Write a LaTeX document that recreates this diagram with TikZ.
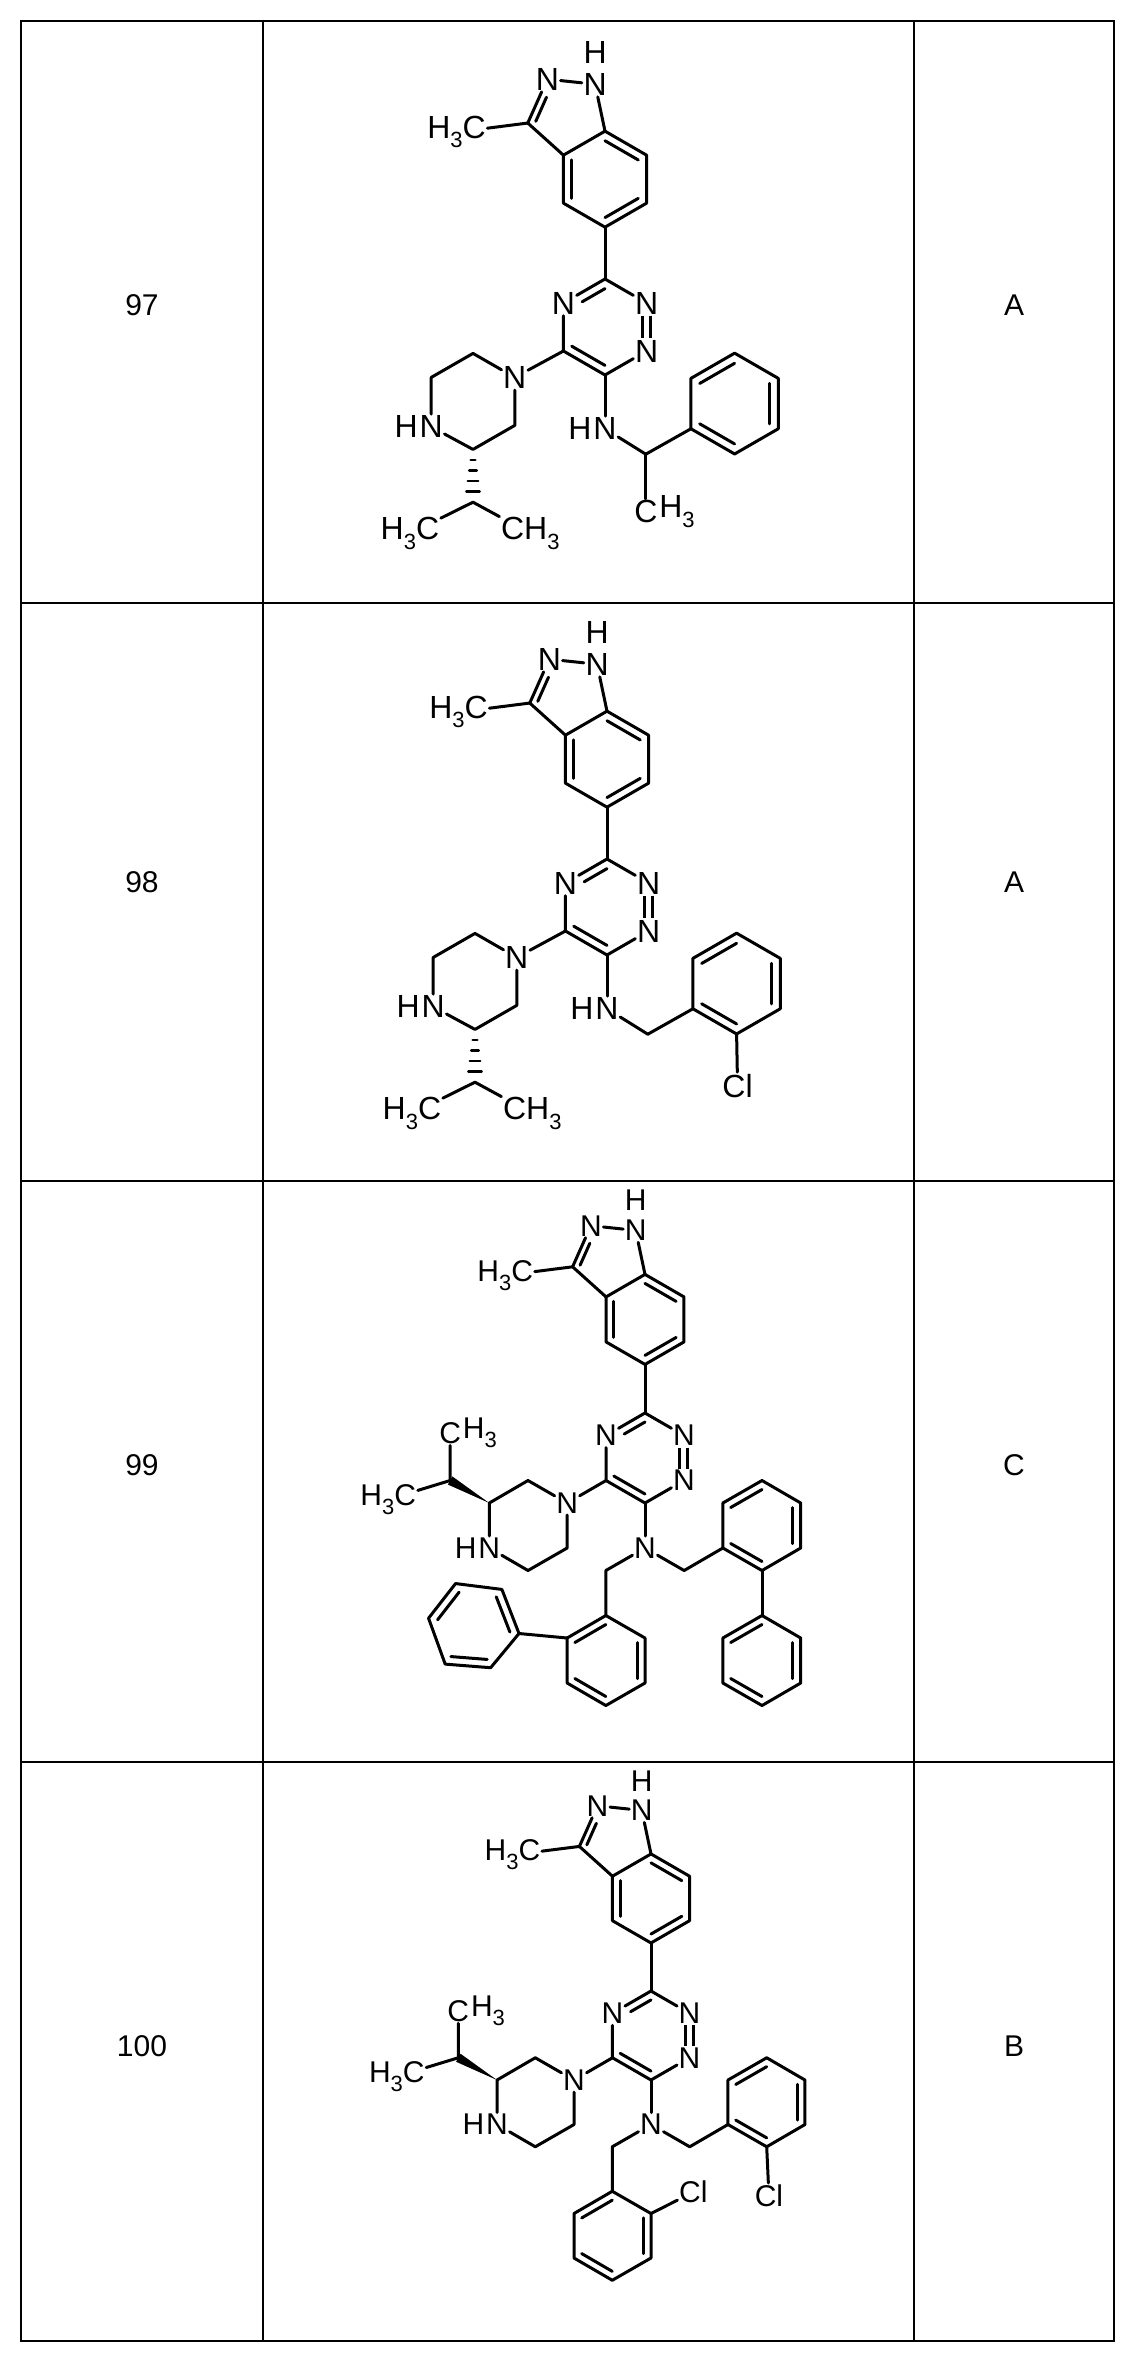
\documentclass[tikz,border=0pt]{standalone}
\usepackage{fontspec}
\setmainfont{Liberation Sans}
\usetikzlibrary{calc}
\newcommand{\chsub}[1]{\raisebox{-0.3em}{\fontsize{22}{22}\selectfont #1}}
\newcommand{\dbl}[4][]{\draw[bond,#1] ($(#2)!.2!(#4)$)--($(#3)!.2!(#4)$);}
\tikzset{
 bond/.style={line width=3pt, line cap=round, line join=round},
 tbl/.style={line width=2.5pt},
 cell/.style={font=\fontsize{30}{30}\selectfont},
}
\newcommand{\core}{%
 \coordinate (c3) at (0,0);
 \node[atom] (n2) at (0.866,-0.5) {N};
 \node[atom] (n1) at (0.866,-1.5) {N};
 \coordinate (c6) at (0,-2);
 \coordinate (c5) at (-0.866,-1.5);
 \node[atom] (n4) at (-0.866,-0.5) {N};
 \coordinate (tc) at (0,-1);
 \draw[bond] (c3)--(n2);
 \draw[bond,double,double distance=5pt,line cap=butt] (n2)--(n1);
 \draw[bond] (n1)--(c6)--(c5)--(n4)--(c3);
 \dbl[shorten >=12pt]{c3}{n4}{tc}
 \dbl{c5}{c6}{tc}
 \coordinate (b1) at (0,1.08);
 \coordinate (b6) at (0.866,1.58);
 \coordinate (b5) at (0.866,2.58);
 \coordinate (c7a) at (0,3.08);
 \coordinate (c3a) at (-0.866,2.58);
 \coordinate (c4) at (-0.866,1.58);
 \coordinate (bc) at (0,2.08);
 \draw[bond] (c3)--(b1);
 \draw[bond] (b1)--(b6)--(b5)--(c7a)--(c3a)--(c4)--cycle;
 \dbl{c4}{c3a}{bc} \dbl{c7a}{b5}{bc} \dbl{b6}{b1}{bc}
 \coordinate (pc3) at (-1.609,3.249);
 \node[atom] (pn2) at (-1.202,4.163) {N};
 \node[atom] (pn1) at (-0.207,4.058) {N};
 \node[atom] (ph) at (-0.207,4.72) {H};
 \coordinate (pc) at (-0.777,3.426);
 \draw[bond] (c3a)--(pc3)--(pn2)--(pn1)--(c7a);
 \dbl[shorten >=12pt]{pc3}{pn2}{pc}
 \node[atom,anchor=east] (me1) at (-2.45,3.06) {H\chsub{3}C};
 \draw[bond] (pc3)--(me1);
}
% piperazine with hashed isopropyl (rows 97, 98) + NH amine
\newcommand{\pipA}{%
 \node[atom] (pN) at (-1.88,-2.05) {N};
 \coordinate (pt) at (-2.75,-1.55);
 \coordinate (pul) at (-3.62,-2.05);
 \node[atom] (pHN) at (-3.62,-3.08) {N};
 \node[atom,anchor=east,inner sep=0pt] (pHH) at (pHN.west) {H};
 \coordinate (ps) at (-2.75,-3.55);
 \coordinate (pr) at (-1.88,-3.05);
 \draw[bond] (c5)--(pN)--(pt)--(pul)--(pHN)--(ps)--(pr)--(pN);
 \coordinate (ich) at (-2.75,-4.65);
 \foreach \t/\w in {0.2/0.05,0.4/0.08,0.6/0.11,0.8/0.14}
   \draw[bond,line width=2.4pt] ($(ps)!\t!(ich)+(-\w,0)$)--($(ps)!\t!(ich)+(\w,0)$);
 \node[atom,anchor=east] (im1) at (-3.42,-5.3) {H\chsub{3}C};
 \node[atom,anchor=west] (im2) at (-2.2,-5.3) {CH\chsub{3}};
 \draw[bond] (im1)--(ich)--(im2);
 \node[atom] (am) at (0,-3.12) {N};
 \node[atom,anchor=east,inner sep=0pt] (amh) at (am.west) {H};
 \draw[bond] (c6)--(am);
 \coordinate (ch) at (0.85,-3.65);
 \draw[bond] (am)--(ch);
 \coordinate (a1) at (1.79,-3.12);
 \coordinate (a2) at (1.79,-2.07);
 \coordinate (a3) at (2.70,-1.545);
 \coordinate (a4) at (3.61,-2.07);
 \coordinate (a5) at (3.61,-3.12);
 \coordinate (a6) at (2.70,-3.645);
 \coordinate (ac) at (2.70,-2.6);
 \draw[bond] (ch)--(a1);
 \draw[bond] (a1)--(a2)--(a3)--(a4)--(a5)--(a6)--cycle;
 \dbl{a2}{a3}{ac} \dbl{a4}{a5}{ac} \dbl{a6}{a1}{ac}
}
% piperazine with wedge isopropyl (rows 99, 100) + N(CH2)2
\newcommand{\pipB}{%
 \node[atom] (pN) at (-1.73,-2) {N};
 \coordinate (pt) at (-2.6,-1.5);
 \coordinate (ps) at (-3.46,-2);
 \node[atom] (pHN) at (-3.46,-3) {N};
 \node[atom,anchor=east,inner sep=0pt] (pHH) at (pHN.west) {H};
 \coordinate (pb) at (-2.6,-3.5);
 \coordinate (pr) at (-1.73,-3);
 \draw[bond] (c5)--(pN)--(pt)--(ps)--(pHN)--(pb)--(pr)--(pN);
 \coordinate (ich) at (-4.33,-1.5);
 \fill (ps)--(-4.28,-1.41)--(-4.38,-1.59)--cycle;
 \node[atom] (imc) at (-4.33,-0.45) {C};
 \node[atom,anchor=west,inner sep=0pt] (imh) at (imc.east) {H\chsub{3}};
 \node[atom,anchor=east] (im1) at (-5.05,-1.92) {H\chsub{3}C};
 \draw[bond] (imc)--(ich)--(im1);
 \node[atom] (am) at (0,-3) {N};
 \draw[bond] (c6)--(am);
 \coordinate (chl) at (-0.87,-3.5);
 \coordinate (chr) at (0.87,-3.5);
 \coordinate (L1) at (-0.87,-4.5);
 \coordinate (L2) at (0,-5);
 \coordinate (L3) at (0,-6);
 \coordinate (L4) at (-0.87,-6.5);
 \coordinate (L5) at (-1.73,-6);
 \coordinate (L6) at (-1.73,-5);
 \coordinate (Lc) at (-0.87,-5.5);
 \draw[bond] (am)--(chl)--(L1);
 \draw[bond] (L1)--(L2)--(L3)--(L4)--(L5)--(L6)--cycle;
 \dbl{L1}{L6}{Lc} \dbl{L2}{L3}{Lc} \dbl{L4}{L5}{Lc}
 \coordinate (R1) at (1.73,-3);
 \coordinate (R2) at (1.73,-2);
 \coordinate (R3) at (2.6,-1.5);
 \coordinate (R4) at (3.46,-2);
 \coordinate (R5) at (3.46,-3);
 \coordinate (R6) at (2.6,-3.5);
 \coordinate (Rc) at (2.6,-2.5);
 \draw[bond] (am)--(chr)--(R1);
 \draw[bond] (R1)--(R2)--(R3)--(R4)--(R5)--(R6)--cycle;
 \dbl{R2}{R3}{Rc} \dbl{R4}{R5}{Rc} \dbl{R6}{R1}{Rc}
}
\begin{document}
\begin{tikzpicture}[x=1pt,y=-1pt]
\useasboundingbox (0,0) rectangle (1135,2359);
\fill[white] (0,0) rectangle (1135,2359);
% table
\draw[tbl] (21,21) rectangle (1114,2341);
\draw[tbl] (263,21)--(263,2341) (914,21)--(914,2341);
\draw[tbl] (21,603)--(1114,603) (21,1181)--(1114,1181) (21,1762)--(1114,1762);
\node[cell] (r97) at (142,305) {97};
\node[cell] (r98) at (142,882) {98};
\node[cell] (r99) at (142,1465) {99};
\node[cell] (r100) at (142,2046) {100};
\node[cell] (s97) at (1014,305) {A};
\node[cell] (s98) at (1014,882) {A};
\node[cell] (s99) at (1014,1465) {C};
\node[cell] (s100) at (1014,2046) {B};
% 97
\begin{scope}[shift={(605,279)},x=48pt,y=48pt,atom/.style={inner sep=1.5pt,font=\fontsize{32}{32}\selectfont}]
 \core \pipA
 \node[atom] (cme) at (0.85,-4.85) {C};
 \node[atom,anchor=west,inner sep=0pt] (cmh) at (cme.east) {H\chsub{3}};
 \draw[bond] (ch)--(cme);
\end{scope}
% 98
\begin{scope}[shift={(607,859)},x=48pt,y=48pt,atom/.style={inner sep=1.5pt,font=\fontsize{32}{32}\selectfont}]
 \core \pipA
 \node[atom] (cl) at (2.72,-4.72) {Cl};
 \draw[bond] (a6)--(cl);
\end{scope}
% 99
\begin{scope}[shift={(645,1413)},x=45pt,y=45pt,atom/.style={inner sep=1.5pt,font=\fontsize{30}{30}\selectfont}]
 \core \pipB
 \coordinate (Q1) at (-2.80,-4.90);
 \coordinate (Q2) at (-3.18,-3.92);
 \coordinate (Q3) at (-4.21,-3.79);
 \coordinate (Q4) at (-4.81,-4.56);
 \coordinate (Q5) at (-4.44,-5.58);
 \coordinate (Q6) at (-3.43,-5.66);
 \coordinate (Qc) at (-3.81,-4.74);
 \draw[bond] (L6)--(Q1);
 \draw[bond] (Q1)--(Q2)--(Q3)--(Q4)--(Q5)--(Q6)--cycle;
 \dbl{Q1}{Q2}{Qc} \dbl{Q3}{Q4}{Qc} \dbl{Q5}{Q6}{Qc}
 \coordinate (S1) at (2.6,-4.5);
 \coordinate (S2) at (3.46,-5);
 \coordinate (S3) at (3.46,-6);
 \coordinate (S4) at (2.6,-6.5);
 \coordinate (S5) at (1.73,-6);
 \coordinate (S6) at (1.73,-5);
 \coordinate (Sc) at (2.6,-5.5);
 \draw[bond] (R6)--(S1);
 \draw[bond] (S1)--(S2)--(S3)--(S4)--(S5)--(S6)--cycle;
 \dbl{S1}{S6}{Sc} \dbl{S2}{S3}{Sc} \dbl{S4}{S5}{Sc}
\end{scope}
% 100
\begin{scope}[shift={(651,1991)},x=44.5pt,y=44.5pt,atom/.style={inner sep=1.5pt,font=\fontsize{30}{30}\selectfont}]
 \core \pipB
 \node[atom] (cl1) at (0.95,-4.52) {Cl};
 \draw[bond] (L2)--(cl1);
 \node[atom] (cl2) at (2.65,-4.6) {Cl};
 \draw[bond] (R6)--(cl2);
\end{scope}
\end{tikzpicture}
\end{document}
